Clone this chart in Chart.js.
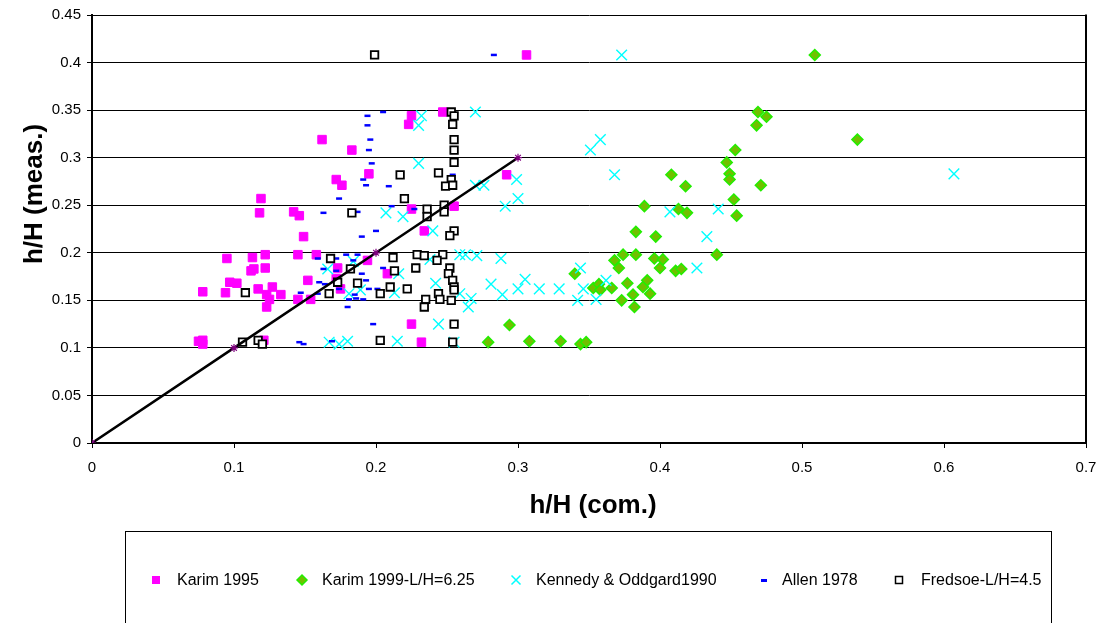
<!DOCTYPE html>
<html>
<head>
<meta charset="utf-8">
<script src="https://cdn.jsdelivr.net/npm/chart.js@4.4.1/dist/chart.umd.min.js"></script>
<style>
  html, body { margin: 0; padding: 0; background: #fff; }
  #wrap { position: relative; width: 1099px; height: 623px; overflow: hidden; }
</style>
</head>
<body>
<div id="wrap"><canvas id="c" width="1099" height="623"></canvas></div>
<script>
// ---- tick labels ----
const xTickValues = [0, 0.1, 0.2, 0.3, 0.4, 0.5, 0.6, 0.7];
const yTickValues = [0, 0.05, 0.1, 0.15, 0.2, 0.25, 0.3, 0.35, 0.4, 0.45];
const xTitle = 'h/H (com.)';
const yTitle = 'h/H (meas.)';

// ---- series names ----
const seriesNames = ['Karim 1995', 'Karim 1999-L/H=6.25', 'Kennedy & Oddgard1990', 'Allen 1978', 'Fredsoe-L/H=4.5'];

// ---- Karim 1995 ----
const karim1995X = [0.119,0.118,0.095,0.113,0.122,0.122,0.112,0.114,0.097,0.102,0.078,0.094,0.117,0.127,0.123,0.125,0.133,0.123,0.075,0.078,0.078,0.121,
  0.247,0.225,0.223,0.162,0.183,0.195,0.172,0.176,0.225,0.255,0.142,0.146,0.149,0.234,0.145,0.158,0.194,0.173,0.208,0.152,0.172,0.175,0.145,0.154,0.225,0.232,
  0.306,0.292];
const karim1995Y = [0.257,0.242,0.194,0.195,0.198,0.184,0.181,0.183,0.169,0.168,0.159,0.158,0.162,0.164,0.156,0.151,0.156,0.143,0.107,0.108,0.104,0.108,
  0.348,0.344,0.335,0.319,0.308,0.283,0.277,0.271,0.246,0.249,0.243,0.239,0.217,0.223,0.198,0.198,0.192,0.184,0.178,0.171,0.173,0.162,0.151,0.151,0.125,0.106,
  0.408,0.282];

// ---- Karim 1999-L/H=6.25 ----
const karim1999X = [0.389,0.383,0.368,0.374,0.383,0.371,0.340,0.353,0.357,0.366,0.377,0.388,0.391,0.381,0.373,0.382,0.294,0.279,0.308,0.330,0.344,0.348,0.393,
  0.509,0.469,0.475,0.468,0.539,0.453,0.447,0.449,0.449,0.408,0.418,0.471,0.452,0.454,0.413,0.419,0.397,0.440,0.396,0.402,0.400,0.411,0.415,0.358];
const karim1999Y = [0.249,0.222,0.192,0.198,0.198,0.184,0.178,0.163,0.167,0.163,0.168,0.164,0.171,0.156,0.150,0.143,0.124,0.106,0.107,0.107,0.104,0.106,0.157,
  0.408,0.348,0.343,0.334,0.319,0.308,0.295,0.283,0.277,0.282,0.270,0.271,0.256,0.239,0.246,0.242,0.217,0.198,0.194,0.193,0.184,0.181,0.183,0.161];

// ---- Kennedy & Oddgard1990 ----
const kennedyX = [0.232,0.230,0.270,0.230,0.270,0.207,0.219,0.240,0.259,0.271,0.238,0.166,0.184,0.216,0.242,0.181,0.189,0.213,0.259,0.267,0.265,0.244,0.167,0.174,0.180,0.215,0.255,
  0.373,0.351,0.358,0.299,0.368,0.276,0.300,0.291,0.263,0.288,0.344,0.281,0.305,0.300,0.315,0.329,0.289,0.346,0.342,0.355,0.362,
  0.407,0.441,0.433,0.426,0.607];
const kennedyY = [0.344,0.334,0.348,0.294,0.271,0.242,0.238,0.223,0.198,0.197,0.193,0.183,0.191,0.178,0.168,0.157,0.161,0.158,0.157,0.152,0.143,0.125,0.106,0.104,0.107,0.107,0.106,
  0.408,0.308,0.319,0.277,0.282,0.271,0.257,0.249,0.198,0.194,0.184,0.167,0.172,0.162,0.162,0.162,0.156,0.162,0.150,0.151,0.171,
  0.243,0.246,0.217,0.184,0.283];

// ---- Allen 1978 ----
const allenX = [0.205,0.194,0.194,0.196,0.195,0.197,0.191,0.193,0.209,0.174,0.163,0.187,0.211,0.227,0.254,0.200,0.190,0.179,0.187,0.159,0.172,0.184,
  0.163,0.172,0.205,0.190,0.160,0.193,0.164,0.174,0.195,0.201,0.147,0.159,0.185,0.181,0.186,0.191,0.180,0.198,0.146,0.149,0.169,0.283];
const allenY = [0.348,0.344,0.334,0.319,0.308,0.294,0.277,0.271,0.270,0.257,0.242,0.243,0.249,0.246,0.282,0.223,0.217,0.198,0.198,0.194,0.194,0.192,
  0.183,0.181,0.184,0.178,0.169,0.171,0.167,0.162,0.162,0.162,0.158,0.157,0.156,0.151,0.152,0.151,0.143,0.125,0.106,0.104,0.107,0.408];

// ---- Fredsoe-L/H=4.5 ----
const fredsoeX = [0.108,0.106,0.117,0.120,
  0.199,0.253,0.255,0.254,0.255,0.255,0.255,0.217,0.244,0.253,0.249,0.254,0.220,0.183,0.236,0.248,0.236,0.248,0.255,0.252,
  0.168,0.212,0.229,0.234,0.247,0.243,0.182,0.213,0.228,0.252,0.251,0.254,0.173,0.187,0.210,0.222,0.255,0.255,
  0.167,0.203,0.244,0.235,0.245,0.253,0.234,0.255,0.203,0.254];
const fredsoeY = [0.158,0.106,0.108,0.104,
  0.408,0.348,0.344,0.335,0.319,0.308,0.295,0.282,0.284,0.277,0.270,0.271,0.257,0.242,0.246,0.250,0.238,0.243,0.223,0.218,
  0.194,0.195,0.198,0.197,0.198,0.192,0.183,0.181,0.184,0.184,0.178,0.171,0.169,0.168,0.164,0.162,0.164,0.161,
  0.157,0.157,0.157,0.151,0.151,0.150,0.143,0.125,0.108,0.106];

// ---- 1:1 reference line ----
const refLineX = [0, 0.1, 0.2, 0.3];
const refLineY = [0, 0.1, 0.2, 0.3];

function pts(xs, ys) { return xs.map((x, i) => ({ x: x, y: ys[i] })); }

const FONT = '"Liberation Sans", Arial, Helvetica, sans-serif';

const legendPlugin = {
  id: 'customLegendTitles',
  afterDraw(chart) {
    const ctx = chart.ctx;
    const a = chart.chartArea;
    ctx.save();
    // right border of plot area
    ctx.strokeStyle = '#000';
    ctx.lineWidth = 2;
    ctx.beginPath();
    ctx.moveTo(a.right, a.top - 0.5);
    ctx.lineTo(a.right, a.bottom);
    ctx.stroke();

    // axis titles
    ctx.fillStyle = '#000';
    ctx.font = 'bold 26px ' + FONT;
    ctx.textAlign = 'center';
    ctx.textBaseline = 'middle';
    ctx.fillText(xTitle, 593, 506);
    ctx.save();
    ctx.translate(35, 194);
    ctx.rotate(-Math.PI / 2);
    ctx.fillText(yTitle, 0, 0);
    ctx.restore();

    // legend box
    ctx.strokeStyle = '#000';
    ctx.lineWidth = 1;
    ctx.strokeRect(125.5, 531.5, 926, 120);

    const ly = 580;
    const markerX = [156, 302, 516, 764, 899];
    const textX = [177, 322, 536, 782, 921];
    ctx.font = '16px ' + FONT;
    ctx.textAlign = 'left';
    ctx.textBaseline = 'middle';
    seriesNames.forEach((n, i) => {
      ctx.fillStyle = '#000';
      ctx.fillText(n, textX[i], ly + 1);
    });
    // markers
    ctx.fillStyle = '#FF00FF';
    ctx.fillRect(markerX[0] - 4, ly - 4, 8, 8);
    ctx.beginPath();
    const dx = markerX[1], r = 5;
    ctx.moveTo(dx - r, ly); ctx.lineTo(dx, ly - r); ctx.lineTo(dx + r, ly); ctx.lineTo(dx, ly + r); ctx.closePath();
    ctx.fillStyle = '#70C000'; ctx.fill();
    ctx.strokeStyle = '#22EE00'; ctx.lineWidth = 1.5; ctx.stroke();
    ctx.beginPath();
    const kx = markerX[2], k = 4.5;
    ctx.moveTo(kx - k, ly - k); ctx.lineTo(kx + k, ly + k);
    ctx.moveTo(kx + k, ly - k); ctx.lineTo(kx - k, ly + k);
    ctx.strokeStyle = '#00FFFF'; ctx.lineWidth = 1.5; ctx.stroke();
    ctx.fillStyle = '#0000FF';
    ctx.fillRect(markerX[3] - 3, ly - 1, 6, 3);
    ctx.strokeStyle = '#000'; ctx.lineWidth = 1.5;
    ctx.fillStyle = '#fff';
    ctx.fillRect(markerX[4] - 3.5, ly - 3.5, 7, 7);
    ctx.strokeRect(markerX[4] - 3.5, ly - 3.5, 7, 7);
    ctx.restore();
  }
};

new Chart(document.getElementById('c'), {
  type: 'scatter',
  data: {
    datasets: [
      { label: 'ref', data: pts(refLineX, refLineY), showLine: true, borderColor: '#000', borderWidth: 2.5,
        pointStyle: 'star', pointRadius: 4, pointBorderColor: '#800080', pointBackgroundColor: '#800080', pointBorderWidth: 1.2, order: 0 },
      { label: seriesNames[4], data: pts(fredsoeX, fredsoeY), pointStyle: 'rect', pointRadius: 5.3,
        backgroundColor: '#fff', borderColor: '#000', borderWidth: 1.8, order: 1 },
      { label: seriesNames[3], data: pts(allenX, allenY), pointStyle: 'line', pointRadius: 3,
        backgroundColor: '#0000FF', borderColor: '#0000FF', borderWidth: 2.5, order: 2 },
      { label: seriesNames[2], data: pts(kennedyX, kennedyY), pointStyle: 'crossRot', pointRadius: 7.5,
        backgroundColor: '#00FFFF', borderColor: '#00FFFF', borderWidth: 1.4, order: 3 },
      { label: seriesNames[1], data: pts(karim1999X, karim1999Y), pointStyle: 'rectRot', pointRadius: 5.5,
        backgroundColor: '#70C000', borderColor: '#22EE00', borderWidth: 1.5, order: 4 },
      { label: seriesNames[0], data: pts(karim1995X, karim1995Y), pointStyle: 'rect', pointRadius: 6,
        backgroundColor: '#FF00FF', borderColor: '#FF00FF', borderWidth: 1, order: 5 }
    ]
  },
  options: {
    responsive: false,
    devicePixelRatio: 1,
    animation: false,
    events: [],
    layout: { padding: { left: 0, right: 13, top: 15, bottom: 0 } },
    plugins: { legend: { display: false }, tooltip: { enabled: false } },
    scales: {
      x: {
        type: 'linear', min: 0, max: 0.7,
        afterFit: s => { s.height = 180; s.paddingLeft = 0; s.paddingRight = 0; s.paddingTop = 0; s.paddingBottom = 0; },
        afterBuildTicks: s => { s.ticks = xTickValues.map(v => ({ value: v })); },
        ticks: { color: '#000', font: { family: FONT, size: 15 }, padding: 11, maxRotation: 0,
          callback: v => String(+v.toFixed(2)) },
        grid: { drawOnChartArea: false, drawTicks: true, tickLength: 5, color: '#000', lineWidth: 1 },
        border: { display: true, color: '#000', width: 2 }
      },
      y: {
        type: 'linear', min: 0, max: 0.45,
        afterFit: s => { s.width = 92; s.paddingLeft = 0; s.paddingRight = 0; s.paddingTop = 0; s.paddingBottom = 0; },
        afterBuildTicks: s => { s.ticks = yTickValues.map(v => ({ value: v })); },
        ticks: { color: '#000', font: { family: FONT, size: 15 }, padding: 6,
          callback: v => String(+v.toFixed(2)) },
        grid: { drawOnChartArea: true, drawTicks: true, tickLength: 5, color: '#000', lineWidth: 1 },
        border: { display: true, color: '#000', width: 2 }
      }
    }
  },
  plugins: [legendPlugin]
});
</script>
</body>
</html>
